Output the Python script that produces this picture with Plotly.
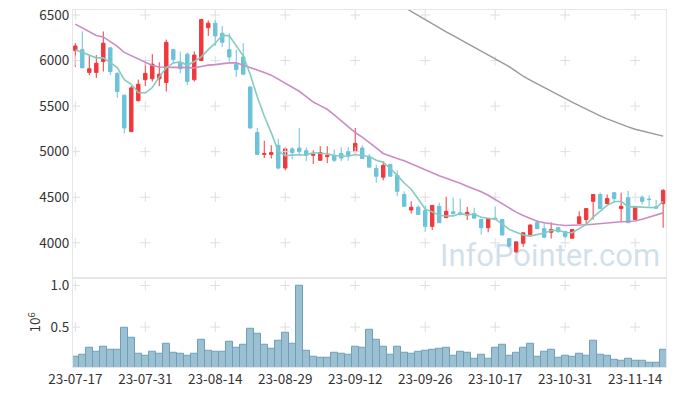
import plotly.graph_objects as go

# Trading days (category axis)
dates = [
    "23-07-17","23-07-18","23-07-19","23-07-20","23-07-21","23-07-24","23-07-25","23-07-26","23-07-27","23-07-28",
    "23-07-31","23-08-01","23-08-02","23-08-03","23-08-04","23-08-07","23-08-08","23-08-09","23-08-10","23-08-11",
    "23-08-14","23-08-16","23-08-17","23-08-18","23-08-21","23-08-22","23-08-23","23-08-24","23-08-25","23-08-28",
    "23-08-29","23-08-30","23-08-31","23-09-01","23-09-04","23-09-05","23-09-06","23-09-07","23-09-08","23-09-11",
    "23-09-12","23-09-13","23-09-14","23-09-15","23-09-18","23-09-19","23-09-20","23-09-21","23-09-22","23-09-25",
    "23-09-26","23-09-27","23-10-04","23-10-05","23-10-06","23-10-10","23-10-11","23-10-12","23-10-13","23-10-16",
    "23-10-17","23-10-18","23-10-19","23-10-20","23-10-23","23-10-24","23-10-25","23-10-26","23-10-27","23-10-30",
    "23-10-31","23-11-01","23-11-02","23-11-03","23-11-06","23-11-07","23-11-08","23-11-09","23-11-10","23-11-13",
    "23-11-14","23-11-15","23-11-16","23-11-17","23-11-20",
]

open_ = [
    6110, 6120, 5870, 5870, 5990, 6140, 5860, 5620, 5220, 5560,
    5790, 5800, 5800, 5760, 6120, 5980, 6070, 5790, 6000, 6360,
    6410, 6300, 6120, 5960, 6040, 5710, 5210, 4970, 4970, 5070,
    4820, 5030, 5040, 5010, 4960, 4905, 4945, 4960, 4980, 5000,
    5000, 5040, 4945, 4815, 4720, 4860, 4740, 4530, 4360, 4390,
    4355, 4180, 4400, 4275, 4340, 4330, 4305, 4320, 4255, 4165,
    4270, 4255, 4045, 3900, 3995, 4090, 4220, 4155, 4115, 4165,
    4125, 4050, 4210, 4255, 4455, 4530, 4430, 4550, 4375, 4495,
    4255, 4500, 4480, 4395, 4430,
]
high = [
    6190, 6320, 6060, 6060, 6320, 6150, 5870, 5620, 5720, 5790,
    5980, 6070, 5980, 6230, 6130, 6100, 6090, 6100, 6460, 6440,
    6450, 6380, 6300, 6120, 6190, 5720, 5260, 5120, 5070, 5140,
    5050, 5050, 5260, 5045, 5015, 5060, 5060, 5025, 5050, 5050,
    5260, 5070, 4975, 4860, 4895, 4860, 4795, 4565, 4455, 4410,
    4410, 4410, 4440, 4505, 4495, 4485, 4395, 4385, 4255, 4270,
    4400, 4255, 4050, 4010, 4110, 4200, 4250, 4230, 4225, 4175,
    4130, 4145, 4345, 4375, 4530, 4550, 4530, 4550, 4550, 4570,
    4390, 4520, 4520, 4470, 4590,
]
low = [
    5930, 5920, 5840, 5810, 5880, 5840, 5590, 5200, 5220, 5550,
    5720, 5770, 5720, 5660, 5970, 5860, 5730, 5770, 6000, 6270,
    6160, 6150, 5990, 5820, 5840, 5250, 4965, 4930, 4925, 4805,
    4795, 4915, 4960, 4895, 4865, 4905, 4875, 4885, 4895, 4900,
    5000, 4925, 4830, 4660, 4685, 4730, 4510, 4400, 4320, 4310,
    4120, 4140, 4220, 4275, 4310, 4300, 4250, 4270, 4090, 4115,
    4255, 4085, 3950, 3890, 3955, 4090, 4155, 4050, 4045, 4110,
    4050, 4050, 4210, 4200, 4255, 4375, 4420, 4440, 4225, 4220,
    4255, 4420, 4400, 4380, 4165,
]
close = [
    6160, 5920, 5910, 5970, 6190, 5880, 5660, 5260, 5700, 5740,
    5860, 5960, 5850, 6200, 6010, 5910, 5770, 6060, 6450, 6410,
    6270, 6200, 6040, 5900, 5850, 5260, 4970, 4980, 4990, 4820,
    5030, 4990, 5000, 4960, 4970, 4990, 4960, 4905, 4930, 4960,
    5090, 4925, 4830, 4730, 4850, 4730, 4565, 4400, 4390, 4310,
    4180, 4410, 4220, 4345, 4320, 4310, 4335, 4270, 4165, 4265,
    4255, 4085, 3965, 4010, 4110, 4195, 4155, 4060, 4145, 4125,
    4070, 4145, 4285, 4375, 4530, 4375, 4485, 4485, 4400, 4220,
    4390, 4455, 4475, 4380, 4575,
]

ma5 = [
    6120, 6090, 6060, 6030, 6030, 5974, 5922, 5791, 5739, 5650,
    5645, 5704, 5821, 5921, 5974, 5985, 5948, 5990, 6040, 6120,
    6191, 6277, 6273, 6163, 6050, 5848, 5602, 5391, 5209, 5003,
    4958, 4962, 4966, 4960, 4991, 4983, 4977, 4958, 4952, 4950,
    4969, 4962, 4947, 4906, 4884, 4813, 4742, 4656, 4588, 4480,
    4370, 4339, 4302, 4293, 4295, 4320, 4306, 4316, 4280, 4270,
    4259, 4208, 4147, 4116, 4085, 4073, 4088, 4107, 4134, 4138,
    4113, 4110, 4155, 4201, 4281, 4342, 4410, 4450, 4456, 4394,
    4397, 4391, 4389, 4384, 4455,
]
ma20 = [
    6400, 6360, 6315, 6275, 6260, 6210, 6155, 6090, 6055, 6020,
    5980, 5945, 5930, 5925, 5925, 5925, 5920, 5920, 5935, 5950,
    5955, 5965, 5975, 5975, 5950, 5920, 5893, 5870, 5840, 5795,
    5755, 5705, 5663, 5605, 5545, 5505, 5465, 5405, 5340, 5275,
    5210, 5160, 5104, 5042, 4980, 4950, 4925, 4900, 4867, 4834,
    4796, 4763, 4735, 4709, 4683, 4654, 4621, 4592, 4559, 4522,
    4475, 4425, 4376, 4336, 4299, 4267, 4237, 4219, 4204, 4197,
    4190, 4190, 4193, 4197, 4204, 4212, 4219, 4225, 4230, 4234,
    4238, 4258, 4280, 4303, 4328,
]
ma60 = [None] * 46 + [
    6630, 6585, 6537, 6490,
    6442, 6398, 6354, 6314, 6274, 6232, 6190, 6150, 6110, 6068,
    6025, 5980, 5934, 5881, 5828, 5786, 5744, 5703, 5663, 5621,
    5580, 5543, 5506, 5466, 5426, 5393, 5360, 5329, 5298, 5272,
    5246, 5226, 5207, 5188, 5170,
]

vol_millions = [
    0.139, 0.163, 0.248, 0.200, 0.260, 0.224, 0.224, 0.488, 0.368, 0.175,
    0.151, 0.200, 0.175, 0.296, 0.188, 0.175, 0.151, 0.175, 0.344, 0.212,
    0.200, 0.200, 0.320, 0.248, 0.284, 0.476, 0.416, 0.284, 0.236, 0.332,
    0.428, 0.296, 0.996, 0.212, 0.139, 0.127, 0.127, 0.188, 0.175, 0.163,
    0.260, 0.248, 0.464, 0.344, 0.260, 0.163, 0.260, 0.188, 0.175, 0.200,
    0.212, 0.224, 0.236, 0.248, 0.151, 0.200, 0.188, 0.115, 0.163, 0.115,
    0.248, 0.284, 0.151, 0.188, 0.248, 0.296, 0.139, 0.200, 0.224, 0.127,
    0.151, 0.139, 0.175, 0.151, 0.332, 0.163, 0.151, 0.103, 0.091, 0.115,
    0.091, 0.091, 0.067, 0.067, 0.224,
]

price_ticks = [4000, 4500, 5000, 5500, 6000, 6500]
vol_ticks = [0.5, 1.0]
tick_dates = dates[::10]

RED = "#f0393c"
BLUE = "#6cc3da"
GRID = "#dedede"
FONT = "Noto Sans CJK KR, Noto Sans, sans-serif"

fig = go.Figure()

# grid crosses at tick intersections
gx, gy = [], []
for d in tick_dates:
    for v in price_ticks:
        gx.append(d); gy.append(v)
fig.add_trace(go.Scatter(x=gx, y=gy, mode="markers", xaxis="x", yaxis="y",
                         marker=dict(symbol="cross-thin", size=7, line=dict(color=GRID, width=1)),
                         hoverinfo="skip", showlegend=False))
gx2, gy2 = [], []
for d in tick_dates:
    for v in vol_ticks:
        gx2.append(d); gy2.append(v)
fig.add_trace(go.Scatter(x=gx2, y=gy2, mode="markers", xaxis="x2", yaxis="y2",
                         marker=dict(symbol="cross-thin", size=7, line=dict(color=GRID, width=1)),
                         hoverinfo="skip", showlegend=False))

fig.add_trace(go.Scatter(x=dates, y=ma60, mode="lines", line=dict(color="#9a9a9a", width=1.4),
                         xaxis="x", yaxis="y", showlegend=False))
fig.add_trace(go.Scatter(x=dates, y=ma20, mode="lines", line=dict(color="#c98dc4", width=1.6),
                         xaxis="x", yaxis="y", showlegend=False))
fig.add_trace(go.Scatter(x=dates, y=ma5, mode="lines", line=dict(color="#86cbbd", width=1.6),
                         xaxis="x", yaxis="y", showlegend=False))

fig.add_trace(go.Candlestick(
    x=dates, open=open_, high=high, low=low, close=close,
    increasing=dict(line=dict(color=RED, width=1), fillcolor=RED),
    decreasing=dict(line=dict(color=BLUE, width=1), fillcolor=BLUE),
    whiskerwidth=0, xaxis="x", yaxis="y", showlegend=False))

fig.add_trace(go.Bar(x=dates, y=vol_millions, xaxis="x2", yaxis="y2", width=1,
                     marker=dict(color="#9bc0d2", line=dict(color="#6f9fb8", width=1)),
                     showlegend=False))

axis_line = dict(showline=True, linecolor="#e6e6e6", linewidth=1, mirror=True,
                 showgrid=False, zeroline=False, ticks="", automargin=False,
                 ticklabeloverflow="allow")

fig.update_layout(
    width=677, height=396,
    margin=dict(l=73, r=10.5, t=10, b=28.7, autoexpand=False),
    paper_bgcolor="white", plot_bgcolor="white",
    font=dict(family=FONT, size=13, color="#333333"),
    bargap=0, boxgap=0.3,
    xaxis=dict(domain=[0, 1], anchor="y", type="category", categoryorder="array",
               categoryarray=dates, range=[-0.33, 84.41], showticklabels=False,
               rangeslider=dict(visible=False), **axis_line),
    xaxis2=dict(domain=[0, 1], anchor="y2", type="category", matches="x",
                tickvals=tick_dates, ticktext=tick_dates, tickfont=dict(size=13.5),
                **axis_line),
    yaxis=dict(domain=[0.25, 1], range=[3616, 6555], tickvals=price_ticks,
               tickfont=dict(size=13.5), **axis_line),
    yaxis2=dict(domain=[0, 0.25], range=[0.02, 1.093], tickvals=vol_ticks,
                ticktext=["0.5", "1.0"], tickfont=dict(size=13.5),
                title=dict(text="10<sup>6</sup>", font=dict(size=13.5), standoff=6),
                **axis_line),
    annotations=[dict(text="InfoPointer.com", xref="paper", yref="paper",
                      x=0.804, y=0.3115, xanchor="center", yanchor="middle",
                      showarrow=False,
                      font=dict(family="Roboto, sans-serif",
                                size=31, color="rgba(120,165,195,0.35)"))],
)

# remove the browser's default 8px page margin so the figure fills the window
fig.write_html("out.html",
               config={"displayModeBar": False},
               post_script="document.body.style.margin='0px';document.body.style.overflow='hidden';")
